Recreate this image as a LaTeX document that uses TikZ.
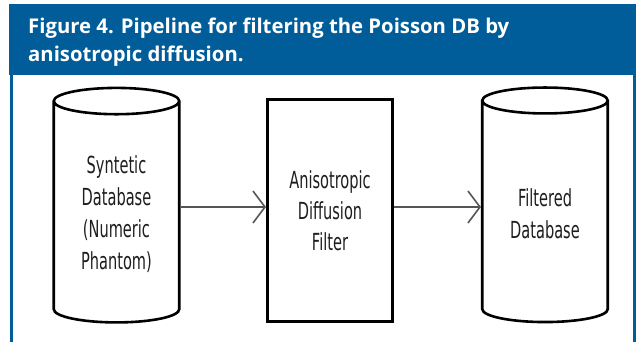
\documentclass[tikz,border=0pt]{standalone}
\usepackage{fontspec}
\setmainfont{DejaVu Sans}
\newfontfamily\headfont{Open Sans}
\newfontfamily\boxfont[FakeStretch=0.62]{DejaVu Sans}
\usetikzlibrary{shapes.geometric,arrows.meta,positioning}
\definecolor{figblue}{RGB}{0,93,153}
\definecolor{flowgray}{RGB}{85,85,85}
\definecolor{inkgray}{RGB}{30,30,30}

\begin{document}
\begin{tikzpicture}[x=1pt,y=-1pt,
    db/.style={cylinder,shape border rotate=90,draw,line width=2.6pt,aspect=0.34,
      minimum width=125.5pt,minimum height=234.5pt,align=center,text=inkgray,
      font=\boxfont\fontsize{23.5}{32}\selectfont},
    proc/.style={rectangle,draw,line width=2.6pt,minimum width=125.5pt,minimum height=222.5pt,
      align=center,text=inkgray,font=\boxfont\fontsize{23.5}{31}\selectfont},
    flow/.style={draw=flowgray,line width=1.6pt,-{Straight Barb[length=12pt,width=32pt]}},
    caption/.style={anchor=base west,inner sep=0pt,text=white,
      font=\headfont\bfseries\fontsize{20.3}{24}\selectfont}]
  \useasboundingbox (0,0) rectangle (636,342);

  % title bar and side rules
  \fill[figblue] (9,4) rectangle (636,75);
  \fill[figblue] (9.5,75) rectangle (12.5,342);
  \fill[figblue] (632.5,75) rectangle (635.5,342);
  \node[caption] (cap1) at (28,34) {Figure 4. Pipeline for filtering the Poisson DB by};
  \node[caption] (cap2) at (28,62) {anisotropic diffusion.};

  % pipeline
  \node[db] (syn) at (116.5,214.5) {Syntetic\\Database\\(Numeric\\Phantom)};
  \node[proc] (adf) at (330,210.5) {Anisotropic\\Diffusion\\Filter};
  \node[db] (fdb) at (545,214) {Filtered\\Database};

  \draw[flow] ([yshift=7.5pt]syn.east) -- ([yshift=3.5pt]adf.west);
  \draw[flow] ([yshift=3.5pt]adf.east) -- ([yshift=7pt]fdb.west);
\end{tikzpicture}
\end{document}
